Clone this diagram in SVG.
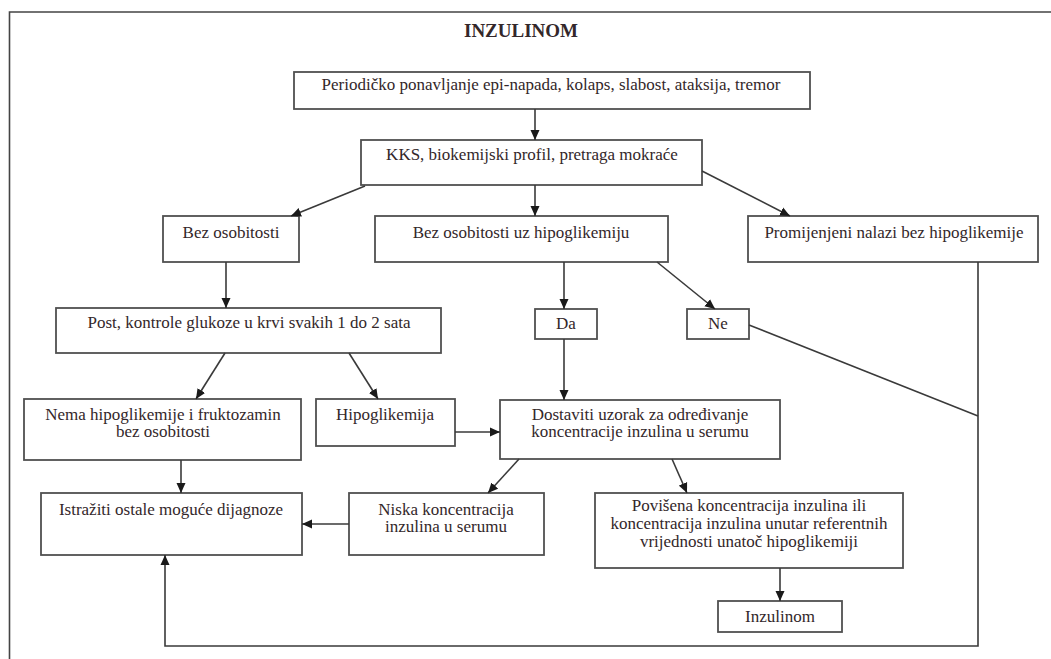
<svg xmlns="http://www.w3.org/2000/svg" width="1051" height="659" viewBox="0 0 1051 659">
<style>
.b{fill:#fff;stroke:#505050;stroke-width:1.8}
.t{font-family:"Liberation Serif","Times New Roman",serif;font-size:17px;fill:#33272a;text-anchor:middle}
.c{fill:none;stroke:#3a3a3a;stroke-width:1.6}
.a{marker-end:url(#ah)}
</style>
<defs>
<marker id="ah" viewBox="0 0 10 10" refX="10" refY="5" markerWidth="10" markerHeight="10" markerUnits="userSpaceOnUse" orient="auto">
<path d="M0,0.5 L10,5 L0,9.5 z" fill="#1a1a1a"/>
</marker>
</defs>
<rect width="1051" height="659" fill="#fff"/>
<path d="M9.5,659 V12 H1051" fill="none" stroke="#444" stroke-width="1.6"/>
<text x="521" y="37" class="t" style="font-weight:bold;font-size:19px">INZULINOM</text>

<g id="n1"><rect class="b" x="294" y="72" width="516" height="37"/><text class="t" x="551" y="90">Periodičko ponavljanje epi-napada, kolaps, slabost, ataksija, tremor</text></g>
<g id="n2"><rect class="b" x="361" y="140" width="341" height="45"/><text class="t" x="532" y="160">KKS, biokemijski profil, pretraga mokraće</text></g>
<g id="n3"><rect class="b" x="163" y="216" width="136" height="46"/><text class="t" x="231" y="238">Bez osobitosti</text></g>
<g id="n4"><rect class="b" x="375" y="216" width="293" height="46"/><text class="t" x="521" y="238">Bez osobitosti uz hipoglikemiju</text></g>
<g id="n5"><rect class="b" x="748" y="216" width="290" height="46"/><text class="t" x="894" y="238">Promijenjeni nalazi bez hipoglikemije</text></g>
<g id="n6"><rect class="b" x="56" y="308" width="385" height="45"/><text class="t" x="249" y="328">Post, kontrole glukoze u krvi svakih 1 do 2 sata</text></g>
<g id="n7"><rect class="b" x="535" y="309" width="62" height="30"/><text class="t" x="566" y="329">Da</text></g>
<g id="n8"><rect class="b" x="687" y="309" width="62" height="30"/><text class="t" x="718" y="329">Ne</text></g>
<g id="n9"><rect class="b" x="24" y="399" width="277" height="61"/><text class="t" x="163" y="420">Nema hipoglikemije i fruktozamin</text><text class="t" x="163" y="437">bez osobitosti</text></g>
<g id="n10"><rect class="b" x="316" y="399" width="139" height="47"/><text class="t" x="385" y="420">Hipoglikemija</text></g>
<g id="n11"><rect class="b" x="500" y="400" width="280" height="59"/><text class="t" x="640" y="420">Dostaviti uzorak za određivanje</text><text class="t" x="640" y="437">koncentracije inzulina u serumu</text></g>
<g id="n12"><rect class="b" x="41" y="493" width="261" height="62"/><text class="t" x="171" y="515">Istražiti ostale moguće dijagnoze</text></g>
<g id="n13"><rect class="b" x="349" y="493" width="195" height="62"/><text class="t" x="446" y="515">Niska koncentracija</text><text class="t" x="446" y="532">inzulina u serumu</text></g>
<g id="n14"><rect class="b" x="595" y="493" width="308" height="75"/><text class="t" x="749" y="511">Povišena koncentracija inzulina ili</text><text class="t" x="749" y="529">koncentracija inzulina unutar referentnih</text><text class="t" x="749" y="547">vrijednosti unatoč hipoglikemiji</text></g>
<g id="n15"><rect class="b" x="718" y="601" width="124" height="31"/><text class="t" x="780" y="622">Inzulinom</text></g>

<g id="connectors">
<path class="c a" d="M535,109 V140"/>
<path class="c a" d="M365,186 L291,216"/>
<path class="c a" d="M535,185 V216"/>
<path class="c a" d="M702,171 L790,216"/>
<path class="c a" d="M226,262 V308"/>
<path class="c a" d="M564,262 V309"/>
<path class="c a" d="M657,262 L715,309"/>
<path class="c" d="M749,325 L978,416"/>
<path class="c a" d="M978,262 V646 H165 V555"/>
<path class="c a" d="M225,353 L196,399"/>
<path class="c a" d="M349,353 L378,399"/>
<path class="c a" d="M455,432 H500"/>
<path class="c a" d="M564,339 V400"/>
<path class="c a" d="M181,460 V493"/>
<path class="c a" d="M519,459 L488,493"/>
<path class="c a" d="M349,524 H302"/>
<path class="c a" d="M672,459 L687,493"/>
<path class="c a" d="M780,568 V601"/>
</g>
</svg>
